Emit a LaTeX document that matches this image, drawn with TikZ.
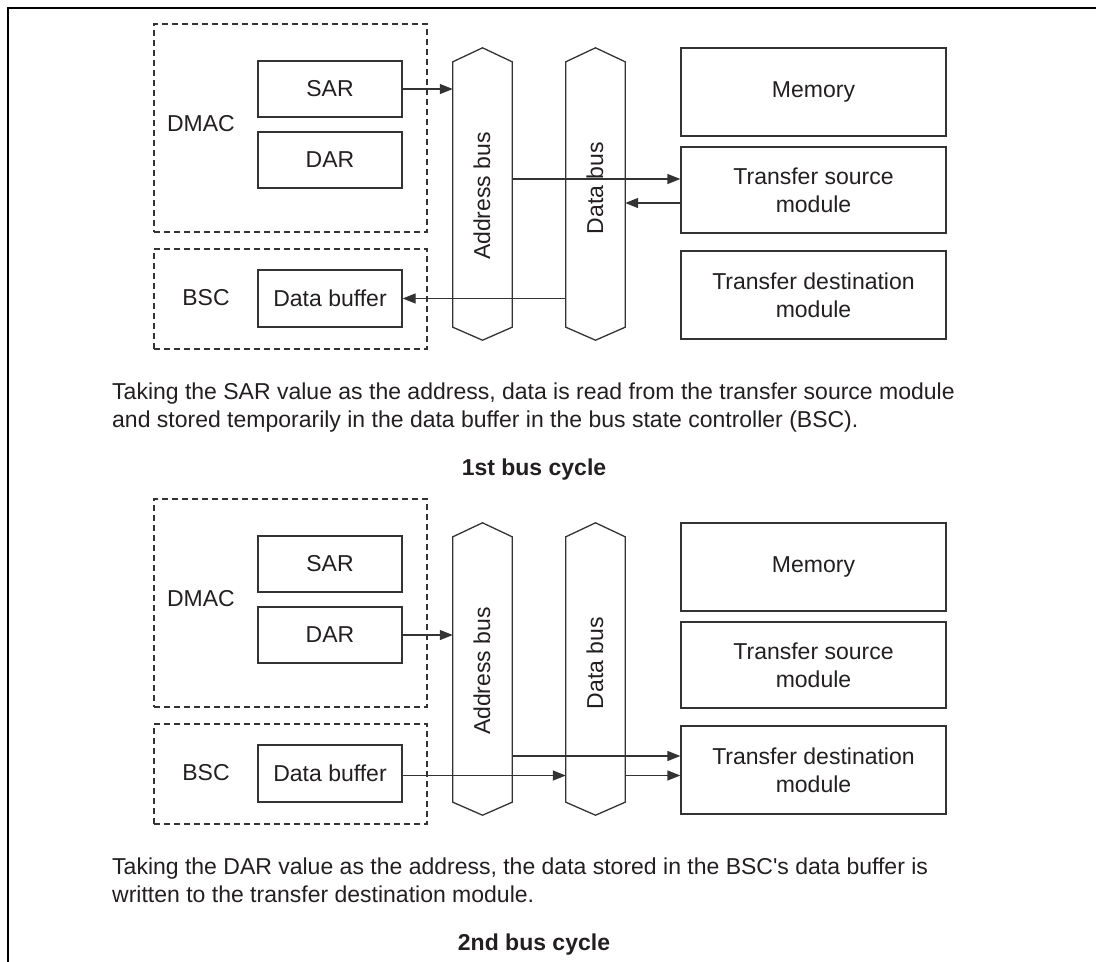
\documentclass[tikz,border=0pt]{standalone}
\usepackage{fontspec}
\newfontfamily\arialf{Liberation Sans}
\usetikzlibrary{arrows.meta}
\definecolor{linec}{HTML}{333333}
\definecolor{txtc}{HTML}{231F20}
\begin{document}
\begin{tikzpicture}[x=1pt,y=-1pt,
  lbl/.style={font=\arialf\fontsize{23}{28}\selectfont, text=txtc, inner sep=0pt},
  regbox/.style={draw=linec, line width=1.3pt, minimum width=144pt, minimum height=56pt, inner sep=0pt, font=\arialf\fontsize{23}{28}\selectfont, text=txtc},
  modbox/.style={draw=linec, line width=1.3pt, minimum width=265pt, inner sep=0pt, align=center, font=\arialf\fontsize{23}{28}\selectfont, text=txtc},
  grpbox/.style={draw=linec, line width=1.2pt, dash pattern=on 6pt off 4pt, minimum width=273pt, inner sep=0pt},
  busbody/.style={draw=none, minimum width=59pt, minimum height=265pt, inner sep=0pt},
  busline/.style={draw=linec, line width=1.3pt, line join=miter},
  arr/.style={draw=linec, line width=1.3pt, -{Triangle[length=13pt,width=10pt]}},
  para/.style={font=\arialf\fontsize{23}{28}\selectfont, text=txtc, inner sep=0pt, anchor=base west},
  captxt/.style={font=\arialf\fontsize{23}{28}\selectfont\bfseries, text=txtc, inner sep=0pt, anchor=base}
]
\useasboundingbox (0,0) rectangle (1096,962);
% outer frame (top and left)
\draw[line width=2.6pt, draw=black] (8,962) -- (8,8) -- (1096,8);

% ---------- 1st bus cycle ----------
\node[grpbox, minimum height=208pt] (dmac1) at (290.5,128) {};
\node[grpbox, minimum height=100pt] (bsc1) at (290.5,299) {};
\node[lbl] (dmacl1) at (201,124) {DMAC};
\node[lbl] (bscl1) at (206,298) {BSC};
\node[regbox] (sar1) at (330,89) {SAR};
\node[regbox] (dar1) at (330,160) {DAR};
\node[regbox, minimum height=57pt] (buf1) at (330,298.5) {Data buffer};
\node[busbody] (ab1) at (482.5,194.5) {};
\node[busbody] (db1) at (595.5,194.5) {};
\draw[busline] (ab1.north west) -- ([yshift=14pt]ab1.north) -- (ab1.north east) -- (ab1.south east) -- ([yshift=-13pt]ab1.south) -- (ab1.south west) -- cycle;
\draw[busline] (db1.north west) -- ([yshift=14pt]db1.north) -- (db1.north east) -- (db1.south east) -- ([yshift=-13pt]db1.south) -- (db1.south west) -- cycle;
\node[lbl, rotate=90] (abl1) at (482,196) {Address bus};
\node[lbl, rotate=90] (dbl1) at (595,188) {Data bus};
\node[modbox, minimum height=88pt] (mem1) at (813.5,92) {Memory};
\node[modbox, minimum height=86pt] (src1) at (813.5,190) {Transfer source\\module};
\node[modbox, minimum height=88pt] (dst1) at (813.5,295) {Transfer destination\\module};
\coordinate (p1) at ([yshift=11pt]src1.west);
\coordinate (p2) at ([yshift=-13pt]src1.west);
\draw[arr] (sar1.east) -- (sar1.east -| ab1.west);
\draw[arr] (p1 -| ab1.east) -- (p1);
\draw[arr] (p2) -- (p2 -| db1.east);
\draw[arr] (buf1.east -| db1.west) -- (buf1.east);
\node[para] (t1a) at (112,399) {Taking the SAR value as the address, data is read from the transfer source module};
\node[para] (t1b) at (112,427) {and stored temporarily in the data buffer in the bus state controller (BSC).};
\node[captxt] (c1) at (534,475) {1st bus cycle};

% ---------- 2nd bus cycle ----------
\begin{scope}[yshift=-475pt]
\node[grpbox, minimum height=208pt] (dmac2) at (290.5,128) {};
\node[grpbox, minimum height=100pt] (bsc2) at (290.5,299) {};
\node[lbl] (dmacl2) at (201,124) {DMAC};
\node[lbl] (bscl2) at (206,298) {BSC};
\node[regbox] (sar2) at (330,89) {SAR};
\node[regbox] (dar2) at (330,160) {DAR};
\node[regbox, minimum height=57pt] (buf2) at (330,298.5) {Data buffer};
\node[busbody] (ab2) at (482.5,194.5) {};
\node[busbody] (db2) at (595.5,194.5) {};
\draw[busline] (ab2.north west) -- ([yshift=14pt]ab2.north) -- (ab2.north east) -- (ab2.south east) -- ([yshift=-13pt]ab2.south) -- (ab2.south west) -- cycle;
\draw[busline] (db2.north west) -- ([yshift=14pt]db2.north) -- (db2.north east) -- (db2.south east) -- ([yshift=-13pt]db2.south) -- (db2.south west) -- cycle;
\node[lbl, rotate=90] (abl2) at (482,196) {Address bus};
\node[lbl, rotate=90] (dbl2) at (595,188) {Data bus};
\node[modbox, minimum height=88pt] (mem2) at (813.5,92) {Memory};
\node[modbox, minimum height=86pt] (src2) at (813.5,190) {Transfer source\\module};
\node[modbox, minimum height=88pt] (dst2) at (813.5,295) {Transfer destination\\module};
\coordinate (q1) at ([yshift=14pt]dst2.west);
\coordinate (q2) at ([yshift=-2pt]buf2.east);
\draw[arr] (dar2.east) -- (dar2.east -| ab2.west);
\draw[arr] (q1 -| ab2.east) -- (q1);
\draw[arr] (q2) -- (q2 -| db2.west);
\draw[arr] (q2 -| db2.east) -- (q2 -| dst2.west);
\node[para] (t2a) at (112,399) {Taking the DAR value as the address, the data stored in the BSC's data buffer is};
\node[para] (t2b) at (112,427) {written to the transfer destination module.};
\node[captxt] (c2) at (534,475) {2nd bus cycle};
\end{scope}
\end{tikzpicture}
\end{document}
